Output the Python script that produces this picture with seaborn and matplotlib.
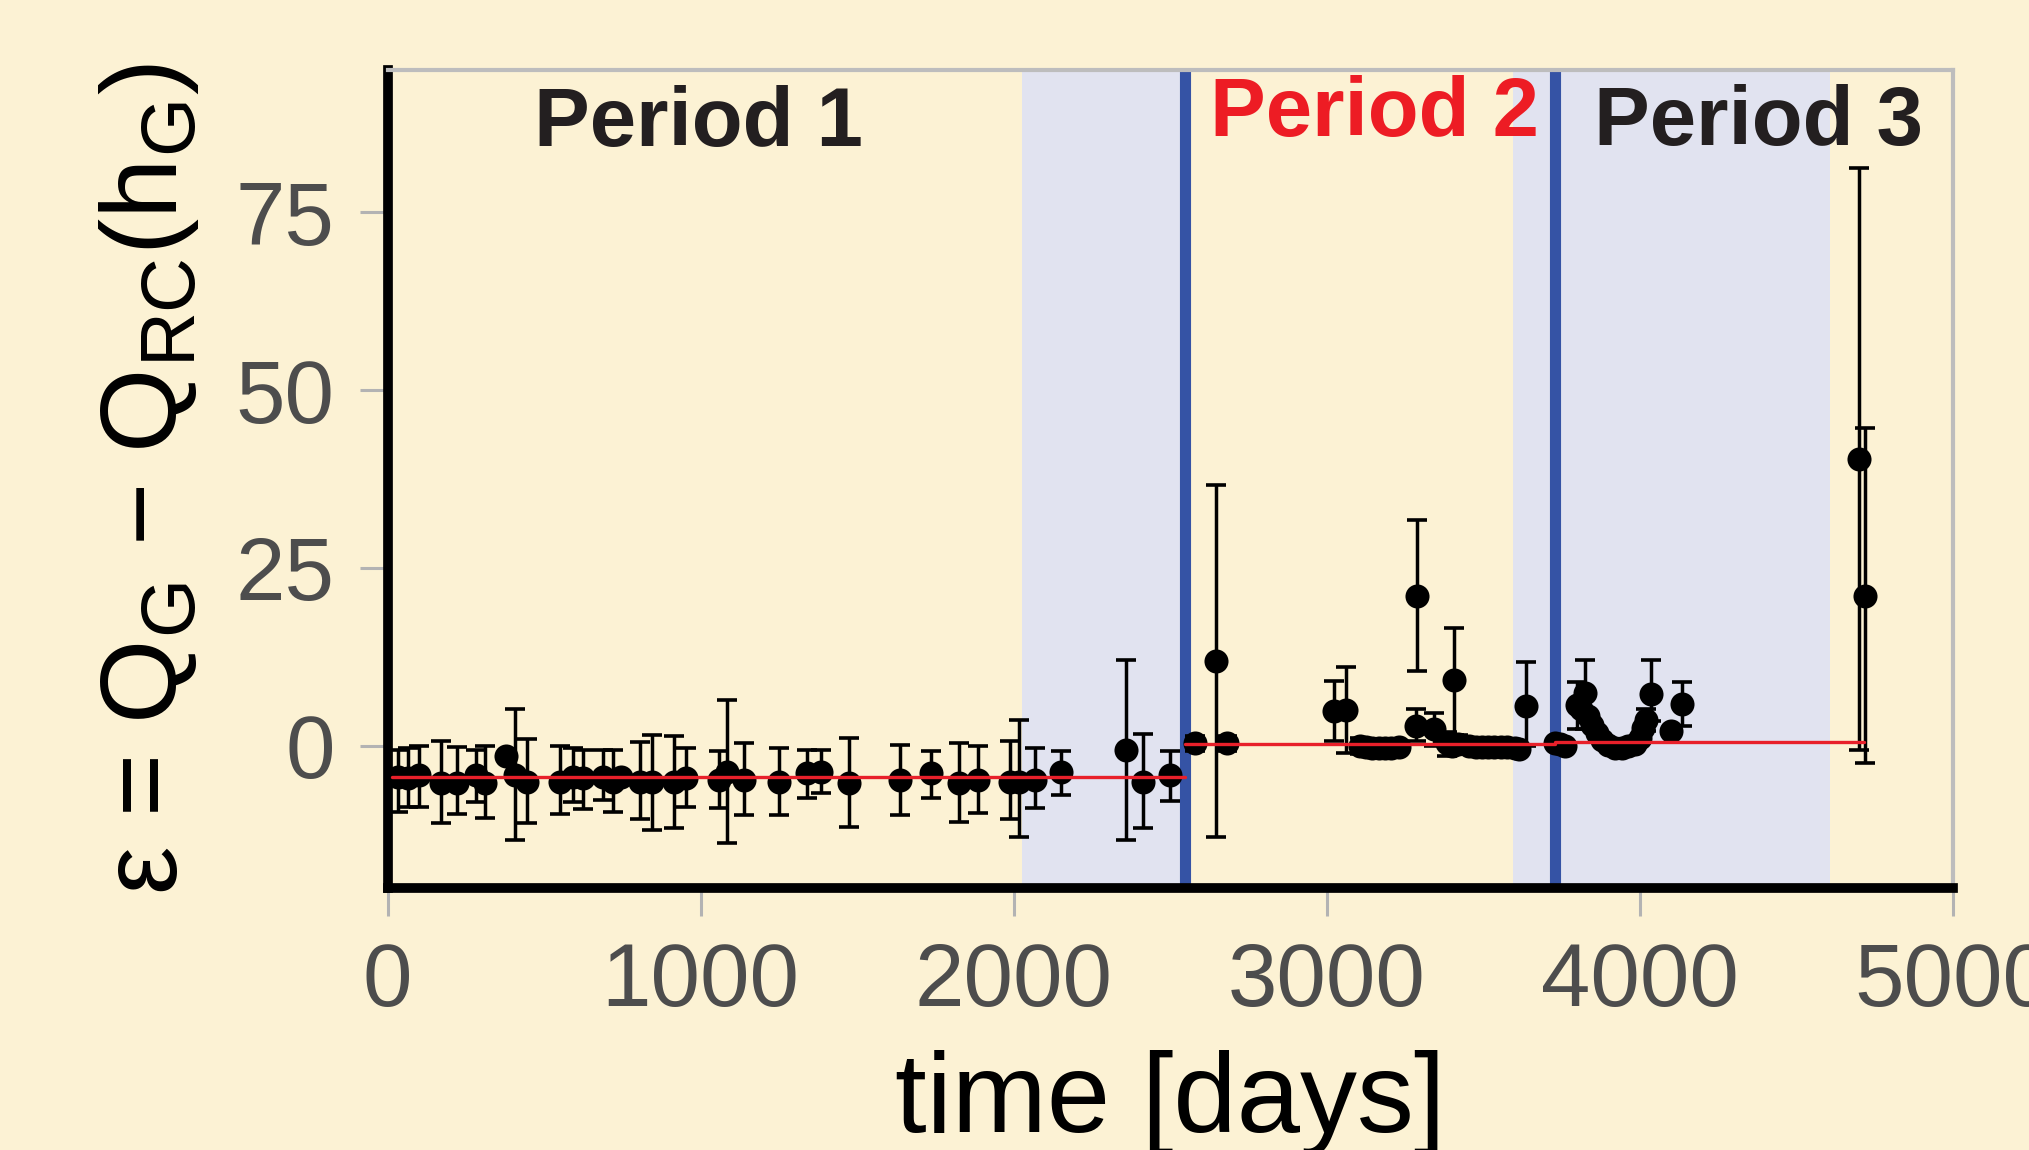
import numpy as np
import pandas as pd
import matplotlib
matplotlib.use('Agg')
import matplotlib.pyplot as plt
import seaborn as sns

# period 1: time [days], epsilon, lower / upper error bar end
p1_time = [35, 64, 99, 170, 223, 281, 310, 377, 406, 446, 552, 591, 623, 687, 719, 747,
           805, 845, 916, 952, 1058, 1083, 1140, 1251, 1339, 1385, 1475, 1638, 1736,
           1826, 1887, 1988, 2016, 2069, 2152, 2360, 2413, 2498]
p1_eps = [-4.4, -4.6, -4.2, -5.3, -5.3, -4.1, -5.3, -1.4, -4.1, -5.1, -5.1, -4.4, -4.6,
          -4.4, -5.1, -4.4, -5.1, -5.1, -5.1, -4.6, -4.8, -3.7, -4.8, -5.1, -3.9, -3.7,
          -5.3, -4.8, -3.9, -5.3, -4.8, -5.1, -5.1, -4.8, -3.7, -0.6, -5.1, -4.2]
p1_lo = [-9.3, -8.6, -8.6, -10.9, -9.6, -7.9, -10.2, -1.4, -13.3, -10.9, -9.6, -7.9, -8.9,
         -7.7, -9.4, -4.4, -10.3, -11.9, -11.6, -8.6, -8.8, -13.7, -9.7, -9.8, -7.4, -6.7,
         -11.5, -9.8, -7.3, -10.7, -9.5, -10.3, -12.8, -8.8, -6.9, -13.3, -11.6, -7.8]
p1_hi = [-0.6, -0.4, -0.1, 0.6, -0.2, -0.6, 0.0, -1.4, 5.2, 0.9, -0.1, -0.4, -0.6,
         -0.6, -0.6, -4.4, 0.5, 1.5, 1.3, -0.4, -0.8, 6.4, 0.3, -0.4, -0.6, -0.6,
         1.1, 0.1, -0.8, 0.3, -0.1, 0.6, 3.6, -0.4, -0.8, 12.0, 1.7, -0.7]

# period 2
p2_time = [2580, 2645, 2681, 3023, 3062, 3105, 3125, 3145, 3165, 3185, 3205, 3230, 3286,
           3288, 3342, 3385, 3400, 3407, 3420, 3455, 3475, 3495, 3515, 3535, 3555, 3575,
           3600, 3614, 3636]
p2_eps = [0.3, 11.9, 0.3, 4.9, 5.0, -0.1, -0.2, -0.3, -0.3, -0.3, -0.3, -0.2, 2.7,
          21.1, 2.3, 0.3, 0.0, 9.2, 0.2, -0.1, -0.2, -0.2, -0.2, -0.2, -0.2, -0.2,
          -0.3, -0.5, 5.5]
p2_lo = [-0.8, -12.8, -0.8, 0.6, -1.0, -1.2, -0.9, -0.9, -0.9, -0.8, -0.8, -0.7, 0.6,
         10.5, -0.1, -1.4, -1.0, 1.5, -1.2, -0.6, -0.6, -0.6, -0.6, -0.6, -0.6, -0.6,
         -0.7, -0.8, -0.1]
p2_hi = [1.3, 36.7, 1.3, 9.1, 11.0, 1.0, 0.6, 0.4, 0.4, 0.3, 0.3, 0.3, 5.1,
         31.7, 4.6, 1.9, 1.0, 16.5, 1.5, 0.4, 0.3, 0.3, 0.3, 0.3, 0.3, 0.3,
         0.2, -0.2, 11.7]

# period 3
p3_time = [3729, 3745, 3760, 3800, 3812, 3825, 3835, 3847, 3863, 3878, 3899, 3921, 3942,
           3963, 3985, 3999, 4009, 4020, 4035, 4099, 4135, 4698, 4720]
p3_eps = [0.3, 0.2, 0.0, 5.7, 5.2, 7.4, 4.1, 2.9, 1.8, 0.8, 0.1, -0.3, -0.3,
          -0.1, 0.2, 1.1, 2.5, 3.6, 7.2, 2.0, 5.8, 40.3, 21.0]
p3_lo = [0.3, 0.2, 0.0, 2.4, 5.2, 2.4, 4.1, 2.9, 1.8, 0.8, 0.1, -0.3, -0.3,
         -0.1, 0.2, 1.1, 2.5, 2.0, 3.4, 2.0, 2.7, -0.6, -2.5]
p3_hi = [0.3, 0.2, 0.0, 9.0, 5.2, 12.1, 4.1, 2.9, 1.8, 0.8, 0.1, -0.3, -0.3,
         -0.1, 0.2, 1.1, 2.5, 5.2, 12.0, 2.0, 9.0, 81.2, 44.6]

# fitted level in each period
period_start = [15, 2546, 3729]
period_end = [2546, 3729, 4715]
period_mean = [-4.4, 0.2, 0.5]

# shaded windows and change points
band_start = [2025, 3595]
band_end = [2546, 4606]
change_points = [2546, 3729]

period_names = ['Period 1', 'Period 2', 'Period 3']
period_label_x = [993, 3153, 4377]
period_label_y = [84.3, 85.8, 84.5]
period_colors = ['#231F20', '#ED1C24', '#231F20']

bg = '#FCF2D4'

df = pd.DataFrame({
    'time': p1_time + p2_time + p3_time,
    'eps': p1_eps + p2_eps + p3_eps,
    'lo': p1_lo + p2_lo + p3_lo,
    'hi': p1_hi + p2_hi + p3_hi,
})
means = pd.DataFrame({
    'time': period_start + period_end,
    'eps': period_mean + period_mean,
    'period': [1, 2, 3, 1, 2, 3],
})

sns.set_style('ticks', {'axes.facecolor': bg, 'figure.facecolor': bg})
plt.rcParams['font.family'] = ['Liberation Sans', 'DejaVu Sans']

fig, ax = plt.subplots(figsize=(20.29, 11.5), dpi=100)
fig.subplots_adjust(left=0.191, right=0.9626, top=0.939, bottom=0.228)

for a, b in zip(band_start, band_end):
    ax.axvspan(a, b, color='#E1E3F0', lw=0, zorder=0)
for x in change_points:
    ax.axvline(x, color='#3553A5', lw=8, zorder=1)

ax.errorbar(df['time'], df['eps'], yerr=[df['eps'] - df['lo'], df['hi'] - df['eps']],
            fmt='none', ecolor='black', elinewidth=2.5, capsize=7, capthick=2.6, zorder=3)
sns.scatterplot(data=df, x='time', y='eps', color='black', s=300, linewidth=0,
                zorder=4, ax=ax)
sns.lineplot(data=means, x='time', y='eps', units='period', estimator=None,
             color='#E8202A', lw=2.4, zorder=5, ax=ax)

for name, x, y, c in zip(period_names, period_label_x, period_label_y, period_colors):
    ax.text(x, y, name, color=c, fontsize=60, fontweight='bold', ha='center',
            va='baseline', zorder=6)

ax.set_xlim(0, 5000)
ax.set_ylim(-20, 95)
ax.set_xticks([0, 1000, 2000, 3000, 4000, 5000])
ax.set_yticks([0, 25, 50, 75])

for s in ['left', 'bottom']:
    ax.spines[s].set_linewidth(7)
    ax.spines[s].set_color('black')
for s in ['top', 'right']:
    ax.spines[s].set_visible(True)
    ax.spines[s].set_linewidth(3)
    ax.spines[s].set_color('#BDBDBD')

ax.tick_params(axis='both', direction='out', length=20, width=2.2, color='#B3B3B3',
               labelsize=64, labelcolor='#4D4D4D', pad=18)

ax.set_xlabel('time [days]', fontsize=82, labelpad=18, color='black')
ax.set_ylabel('ε = Q$_\\mathregular{G}$ − Q$_\\mathregular{RC}$(h$_\\mathregular{G}$)',
              fontsize=78, labelpad=25, color='black')

plt.savefig('out.png', dpi=100)
